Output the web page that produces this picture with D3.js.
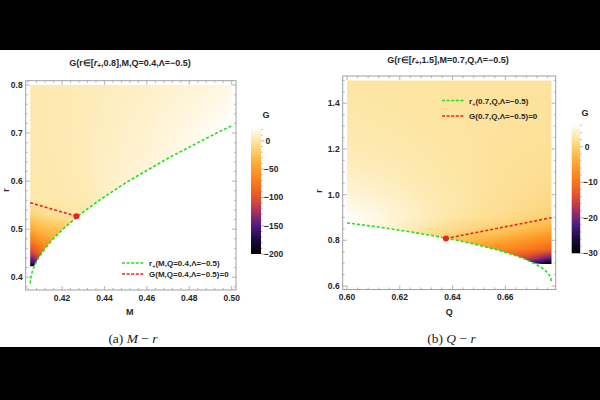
<!DOCTYPE html>
<html>
<head>
<meta charset="utf-8">
<script src="https://cdn.jsdelivr.net/npm/d3@7"></script>
<style>
  body { margin: 0; background: #fff; }
  svg { display: block; }
  text { font-family: "Liberation Sans", Arial, sans-serif; }
  text.caption { font-family: "Liberation Serif", "DejaVu Serif", serif; }
</style>
</head>
<body>
<svg id="chart" width="600" height="400"></svg>
<script>
// ---------- data ----------
// panel (a): M - r   (Q = 0.4, Lambda = -0.5)
const horizonA_M = [0.40505, 0.40507, 0.40533, 0.40586, 0.40665, 0.40768, 0.40892, 0.41202, 0.41589, 0.42042, 0.42835, 0.43749, 0.4513, 0.47097, 0.49288, 0.49985];
const horizonA_r = [0.387, 0.39, 0.40, 0.41, 0.42, 0.43, 0.44, 0.46, 0.48, 0.50, 0.53, 0.56, 0.60, 0.65, 0.70, 0.715];
const zeroA_M = [0.405, 0.4158, 0.4268];
const zeroA_r = [0.555, 0.541, 0.527];
const floorA = 0.423;
const gridA_M = [0.405, 0.4065, 0.408, 0.41, 0.415, 0.42, 0.43, 0.44, 0.46, 0.48, 0.50];
const gridA_r = [0.42, 0.43, 0.44, 0.45, 0.47, 0.50, 0.53, 0.56, 0.60, 0.65, 0.70, 0.75, 0.80];
const gridA_G = [
  [-205, -200, -190, -170, -120, -70, -20, 5, 15, 22, 28],
  [-170, -160, -150, -135, -95, -55, -15, 5, 15, 22, 28],
  [-140, -132, -122, -108, -78, -45, -12, 5, 15, 22, 28],
  [-115, -108, -100, -86, -62, -38, -10, 5, 15, 22, 28],
  [-82, -77, -70, -62, -48, -30, -8, 5, 15, 22, 28],
  [-42, -39, -35, -31, -28, -24, -10, 4, 15, 22, 28],
  [-16, -14, -12, -9, -4, -2, 1, 6, 15, 22, 28],
  [0.5, 0.6, 0.8, 1, 1.5, 2, 3, 8, 16, 22, 28],
  [1.5, 1.6, 1.7, 1.9, 2.3, 3, 4.5, 8, 16, 22, 28],
  [2, 2, 2.2, 2.4, 2.8, 3.4, 5, 8, 13, 21, 28],
  [2.2, 2.3, 2.4, 2.6, 3, 3.5, 5, 7.5, 12, 18, 26],
  [2.3, 2.4, 2.5, 2.6, 3, 3.4, 4.6, 6.8, 10.5, 15, 21],
  [2.3, 2.4, 2.5, 2.6, 2.9, 3.2, 4.2, 6, 9, 13, 17]
];
const xTicksA = [0.42, 0.44, 0.46, 0.48, 0.50];
const yTicksA = [0.4, 0.5, 0.6, 0.7, 0.8];
const cbarTicksA = [0, -50, -100, -150, -200];

// panel (b): Q - r   (M = 0.7, Lambda = -0.5)
const horizonB_Q = [0.6, 0.6109, 0.6224, 0.6326, 0.6417, 0.6495, 0.6564, 0.6621, 0.6669, 0.6708, 0.6738, 0.6759, 0.6771, 0.6775];
const horizonB_r = [0.876, 0.86, 0.84, 0.82, 0.80, 0.78, 0.76, 0.74, 0.72, 0.70, 0.68, 0.66, 0.64, 0.62];
const zeroB_Q = [0.6375, 0.6775];
const zeroB_r = [0.808, 0.899];
const floorB = 0.696;
const gridB_Q = [0.60, 0.61, 0.62, 0.63, 0.64, 0.65, 0.66, 0.67, 0.6775];
const gridB_r = [0.69, 0.72, 0.76, 0.80, 0.85, 0.90, 0.95, 1.0, 1.1, 1.2, 1.3, 1.4, 1.5];
const gridB_G = [
  [-2.6, -4.4, -6.2, -8, -10.5, -13.5, -19, -27, -33],
  [-0.2, -2, -3.8, -5.6, -7.5, -9.7, -12.5, -17, -22],
  [1.5, 0.5, -0.6, -2.5, -4.3, -6, -8, -10, -12],
  [3.5, 2.5, 1.5, 0.4, -1, -3, -4.7, -6.5, -8],
  [6, 5, 4, 2.5, 1.2, 0.4, -0.7, -2.5, -4],
  [6.5, 5.5, 4.5, 3.5, 2.5, 1.8, 1.2, 0.5, 0],
  [5.5, 5, 4.2, 3.4, 2.7, 2.1, 1.6, 1.1, 0.8],
  [4.8, 4.4, 3.8, 3.2, 2.7, 2.2, 1.8, 1.4, 1.2],
  [3.8, 3.5, 3.2, 2.8, 2.5, 2.2, 1.9, 1.7, 1.6],
  [3.2, 3.0, 2.8, 2.6, 2.4, 2.2, 2.0, 1.9, 1.8],
  [2.8, 2.7, 2.6, 2.4, 2.3, 2.2, 2.1, 2.0, 2.0],
  [2.6, 2.5, 2.4, 2.3, 2.2, 2.2, 2.1, 2.1, 2.1],
  [2.4, 2.4, 2.3, 2.3, 2.2, 2.2, 2.2, 2.2, 2.2]
];
const xTicksB = [0.60, 0.62, 0.64, 0.66];
const yTicksB = [0.6, 0.8, 1.0, 1.2, 1.4];
const cbarTicksB = [0, -10, -20, -30];

// sunset-like colour ramp of the colour bars
const sunsetT = [0, 0.111, 0.222, 0.333, 0.444, 0.556, 0.667, 0.778, 0.889, 1];
const sunsetC = ["#000000", "#1d0b3c", "#4b1e85", "#a8305e", "#e4532b", "#f8791b", "#fd9c2b", "#fec354", "#fde6a6", "#ffffff"];

const GREEN = "#22e022", RED = "#ee2222", FRAME = "#a0a0a0", INK = "#262626";

const svg = d3.select("#chart");
svg.append("rect").attr("width", 600).attr("height", 400).attr("fill", "#fff");
svg.append("rect").attr("x", 0).attr("y", 0).attr("width", 600).attr("height", 50).attr("fill", "#000");
svg.append("rect").attr("x", 0).attr("y", 347).attr("width", 600).attr("height", 53).attr("fill", "#000");

const ramp = d3.scaleLinear().domain(sunsetT).range(sunsetC).interpolate(d3.interpolateRgb).clamp(true);

function bilinear(xs, ys, zs, xv, yv) {
  const i = Math.max(0, Math.min(xs.length - 2, d3.bisectRight(xs, xv) - 1));
  const j = Math.max(0, Math.min(ys.length - 2, d3.bisectRight(ys, yv) - 1));
  const tx = Math.max(0, Math.min(1, (xv - xs[i]) / (xs[i + 1] - xs[i])));
  const ty = Math.max(0, Math.min(1, (yv - ys[j]) / (ys[j + 1] - ys[j])));
  const a = zs[j][i] * (1 - tx) + zs[j][i + 1] * tx;
  const b = zs[j + 1][i] * (1 - tx) + zs[j + 1][i + 1] * tx;
  return a * (1 - ty) + b * ty;
}

// text with italic / subscript pieces
function rich(sel, parts) {
  let shift = 0;
  parts.forEach(p => {
    const s = sel.append("tspan").text(p.t);
    const want = p.sub ? 2 : 0;
    if (want !== shift) { s.attr("dy", want - shift); shift = want; }
    if (p.sub) s.attr("font-size", "0.7em");
    if (p.i) s.attr("font-style", "italic");
  });
  return sel;
}

function drawPanel(p) {
  const g = svg.append("g");
  const x = d3.scaleLinear().domain(p.xDomain).range(p.xRange);
  const y = d3.scaleLinear().domain(p.yDomain).range(p.yRange);
  const G = d3.scaleLinear().domain(p.cbarDomain).range([0, 1]);

  // density image
  const px0 = Math.floor(x(p.xDomain[0])), px1 = Math.ceil(x(p.xDomain[1]));
  const py0 = Math.floor(y(p.top)), py1 = Math.ceil(y(p.floor));
  const cw = px1 - px0, ch = py1 - py0;
  const canvas = document.createElement("canvas");
  canvas.width = cw; canvas.height = ch;
  const ctx = canvas.getContext("2d");
  const img = ctx.createImageData(cw, ch);
  for (let j = 0; j < ch; j++) {
    for (let i = 0; i < cw; i++) {
      const v = bilinear(p.gridX, p.gridY, p.gridG, x.invert(px0 + i + 0.5), y.invert(py0 + j + 0.5));
      const c = d3.rgb(ramp(G(v)));
      const k = 4 * (j * cw + i);
      img.data[k] = c.r; img.data[k + 1] = c.g; img.data[k + 2] = c.b; img.data[k + 3] = 255;
    }
  }
  ctx.putImageData(img, 0, 0);

  const curve = p.curveX.map((v, i) => [v, p.curveY[i]]);
  const poly = [[p.xDomain[0], p.top], [p.xDomain[1], p.top]]
    .concat(curve.slice().reverse().map(d => [d[0], Math.max(d[1], p.floor)]))
    .concat(p.clipTail);
  const defs = svg.append("defs");
  defs.append("clipPath").attr("id", p.id + "clip")
    .append("path").attr("d", d3.line().x(d => x(d[0])).y(d => y(d[1]))(poly) + "Z");
  g.append("image")
    .attr("href", canvas.toDataURL())
    .attr("x", px0).attr("y", py0).attr("width", cw).attr("height", ch)
    .attr("preserveAspectRatio", "none")
    .attr("clip-path", `url(#${p.id}clip)`);

  // frame + ticks
  const [fx0, fy0, fx1, fy1] = p.frame;
  g.append("rect").attr("x", fx0).attr("y", fy0).attr("width", fx1 - fx0).attr("height", fy1 - fy0)
    .attr("fill", "none").attr("stroke", FRAME).attr("stroke-width", 1);
  const tk = g.append("g").attr("stroke", FRAME).attr("stroke-width", 0.8);
  const xLo = x.invert(fx0), xHi = x.invert(fx1), yLo = y.invert(fy1), yHi = y.invert(fy0);
  const xMinor = d3.range(Math.ceil(xLo / p.xMinor) * p.xMinor, xHi, p.xMinor);
  const yMinor = d3.range(Math.ceil(yLo / p.yMinor) * p.yMinor, yHi, p.yMinor);
  const isMajor = (v, list) => list.some(t => Math.abs(t - v) < 1e-6);
  xMinor.forEach(v => {
    const L = isMajor(v, p.xTicks) ? 4 : 2;
    tk.append("line").attr("x1", x(v)).attr("x2", x(v)).attr("y1", fy1).attr("y2", fy1 - L);
    tk.append("line").attr("x1", x(v)).attr("x2", x(v)).attr("y1", fy0).attr("y2", fy0 + L);
  });
  yMinor.forEach(v => {
    const L = isMajor(v, p.yTicks) ? 4 : 2;
    tk.append("line").attr("y1", y(v)).attr("y2", y(v)).attr("x1", fx0).attr("x2", fx0 + L);
    tk.append("line").attr("y1", y(v)).attr("y2", y(v)).attr("x1", fx1).attr("x2", fx1 - L);
  });

  g.selectAll(".xl").data(p.xTicks).enter().append("text")
    .attr("x", d => x(d)).attr("y", fy1 + 10.5).attr("text-anchor", "middle")
    .attr("font-size", 8.5).attr("font-weight", "bold").attr("fill", INK)
    .text(d => d.toFixed(2));
  g.selectAll(".yl").data(p.yTicks).enter().append("text")
    .attr("x", fx0 - 3).attr("y", d => y(d) + 3).attr("text-anchor", "end")
    .attr("font-size", 8.5).attr("font-weight", "bold").attr("fill", INK)
    .text(d => d.toFixed(1));

  // curves
  const line = d3.line().x(d => x(d[0])).y(d => y(d[1]));
  g.append("path").attr("d", line(curve)).attr("fill", "none")
    .attr("stroke", GREEN).attr("stroke-width", 1.6).attr("stroke-dasharray", "3,2");
  const zero = p.zeroX.map((v, i) => [v, p.zeroY[i]]);
  g.append("path").attr("d", line(zero)).attr("fill", "none")
    .attr("stroke", RED).attr("stroke-width", 1.6).attr("stroke-dasharray", "3,2");
  g.append("circle").attr("cx", x(p.dot[0])).attr("cy", y(p.dot[1])).attr("r", 3).attr("fill", RED);

  // legend
  const lg = p.legend;
  [[GREEN, lg.labels[0], lg.y0], [RED, lg.labels[1], lg.y0 + lg.dy]].forEach(([col, parts, ly]) => {
    g.append("line").attr("x1", lg.x0).attr("x2", lg.x0 + 22).attr("y1", ly).attr("y2", ly)
      .attr("stroke", col).attr("stroke-width", 1.6).attr("stroke-dasharray", "3,1.6");
    rich(g.append("text").attr("x", lg.x0 + 27).attr("y", ly + 3)
      .attr("font-size", 8).attr("font-weight", "bold").attr("fill", INK), parts);
  });

  // titles and axis names
  rich(g.append("text").attr("x", p.title.x).attr("y", p.title.y).attr("text-anchor", "middle")
    .attr("font-size", 9).attr("font-weight", "bold").attr("fill", INK), p.title.parts);
  g.append("text").attr("x", (fx0 + fx1) / 2 + p.xNameDx).attr("y", fy1 + 25).attr("text-anchor", "middle")
    .attr("font-size", 9).attr("font-weight", "bold").attr("fill", INK).text(p.xName);
  g.append("text").attr("transform", `translate(${p.rNameX},${p.rNameY}) rotate(-90)`)
    .attr("text-anchor", "middle").attr("font-size", 9).attr("font-weight", "bold").attr("fill", INK).text("r");

  // colour bar
  const cb = p.cbar;
  const cy = d3.scaleLinear().domain(p.cbarDomain).range([cb.y1, cb.y0]);
  const grad = defs.append("linearGradient").attr("id", p.id + "grad")
    .attr("x1", 0).attr("x2", 0).attr("y1", 1).attr("y2", 0);
  sunsetT.forEach((t, i) => grad.append("stop").attr("offset", t).attr("stop-color", sunsetC[i]));
  g.append("rect").attr("x", cb.x).attr("y", cb.y0).attr("width", cb.w).attr("height", cb.y1 - cb.y0)
    .attr("fill", `url(#${p.id}grad)`);
  const cbt = g.append("g").attr("stroke", FRAME).attr("stroke-width", 0.8);
  d3.range(p.cbarDomain[0], p.cbarDomain[1] + 1e-9, cb.minor).forEach(v => {
    const L = isMajor(v, p.cbarTicks) ? 3 : 1.6;
    cbt.append("line").attr("x1", cb.x + cb.w).attr("x2", cb.x + cb.w + L).attr("y1", cy(v)).attr("y2", cy(v));
  });
  g.selectAll(".cl").data(p.cbarTicks).enter().append("text")
    .attr("x", d => cb.x + cb.w + 3 + (d === 0 ? 1.5 : 0)).attr("y", d => cy(d) + 3)
    .attr("font-size", 8.5).attr("font-weight", "bold").attr("fill", INK)
    .text(d => d === 0 ? "0" : "\u2212" + Math.abs(d));
  g.append("text").attr("x", cb.gx).attr("y", cb.gy).attr("text-anchor", "middle")
    .attr("font-size", 9).attr("font-weight", "bold").attr("fill", INK).text("G");

  // caption
  const cap = g.append("text").attr("class", "caption").attr("x", p.caption.x).attr("y", 342.5)
    .attr("text-anchor", "middle").attr("font-size", 13.5).attr("fill", "#222");
  p.caption.parts.forEach(c => {
    const s = cap.append("tspan").text(c.t);
    if (c.i) s.attr("font-style", "italic");
  });
}

drawPanel({
  id: "a",
  xDomain: [0.405, 0.5], xRange: [30.2, 231.7],
  yDomain: [0.4, 0.8], yRange: [277.2, 85],
  top: 0.8, floor: floorA,
  gridX: gridA_M, gridY: gridA_r, gridG: gridA_G,
  curveX: horizonA_M, curveY: horizonA_r,
  clipTail: [[0.405, floorA]],
  zeroX: zeroA_M, zeroY: zeroA_r, dot: [zeroA_M[2], zeroA_r[2]],
  frame: [25.7, 80.7, 236, 290],
  xTicks: xTicksA, yTicks: yTicksA, xMinor: 0.004, yMinor: 0.02,
  cbarDomain: [-200, 25], cbarTicks: cbarTicksA,
  cbar: { x: 251, w: 10, y0: 126.7, y1: 254, minor: 10, gx: 266, gy: 118 },
  legend: { x0: 122, y0: 263, dy: 11, labels: [
    [{ t: "r" }, { t: "+", sub: true }, { t: "(M,Q=0.4,\u039b=\u22120.5)" }],
    [{ t: "G(M,Q=0.4,\u039b=\u22120.5)=0" }]
  ] },
  title: { x: 130, y: 65.5, parts: [{ t: "G(r\u2208[" }, { t: "r", i: true }, { t: "+", sub: true }, { t: ",0.8],M,Q=0.4,\u039b=\u22120.5)" }] },
  xName: "M", xNameDx: -1, rNameX: 9, rNameY: 190,
  caption: { x: 133, parts: [{ t: "(a) " }, { t: "M", i: true }, { t: " \u2212 " }, { t: "r", i: true }] }
});

drawPanel({
  id: "b",
  xDomain: [0.6, 0.6775], xRange: [347, 551.5],
  yDomain: [0.6, 1.5], yRange: [286, 80.4],
  top: 1.5, floor: floorB,
  gridX: gridB_Q, gridY: gridB_r, gridG: gridB_G,
  curveX: horizonB_Q, curveY: horizonB_r,
  clipTail: [],
  zeroX: zeroB_Q, zeroY: zeroB_r, dot: [zeroB_Q[0], zeroB_r[0]],
  frame: [342.7, 76, 555.7, 289.5],
  xTicks: xTicksB, yTicks: yTicksB, xMinor: 0.004, yMinor: 0.05,
  cbarDomain: [-30, 6.6], cbarTicks: cbarTicksB,
  cbar: { x: 571.7, w: 8.5, y0: 123.3, y1: 253.3, minor: 2, gx: 585, gy: 115.5 },
  legend: { x0: 442, y0: 100.5, dy: 15.5, labels: [
    [{ t: "r" }, { t: "+", sub: true }, { t: "(0.7,Q,\u039b=\u22120.5)" }],
    [{ t: "G(0.7,Q,\u039b=\u22120.5)=0" }]
  ] },
  title: { x: 448, y: 62.5, parts: [{ t: "G(r\u2208[" }, { t: "r", i: true }, { t: "+", sub: true }, { t: ",1.5],M=0.7,Q,\u039b=\u22120.5)" }] },
  xName: "Q", xNameDx: 0, rNameX: 322, rNameY: 191,
  caption: { x: 451.5, parts: [{ t: "(b) " }, { t: "Q", i: true }, { t: " \u2212 " }, { t: "r", i: true }] }
});
</script>
</body>
</html>
